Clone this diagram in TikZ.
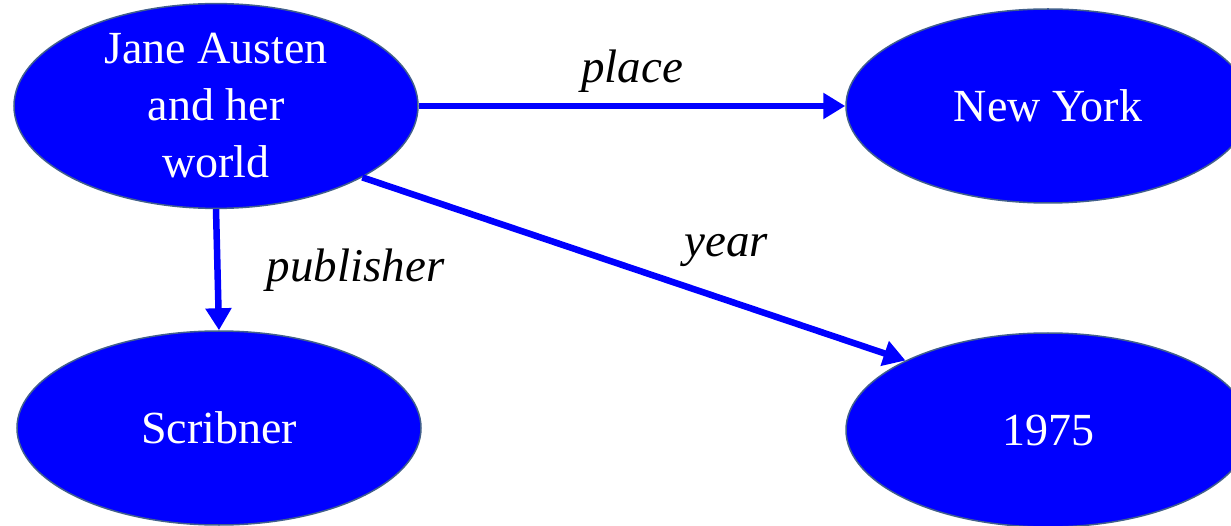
\documentclass[tikz,border=0pt]{standalone}
\usepackage{fontspec}
\setmainfont{Liberation Serif}
\usetikzlibrary{shapes.geometric,positioning,arrows.meta}
\definecolor{nodeblue}{RGB}{0,0,255}
\definecolor{rimslate}{RGB}{65,95,140}
\definecolor{linkblue}{RGB}{0,0,255}
\tikzset{
  entity/.style={
    ellipse, fill=nodeblue, draw=rimslate, line width=1.5pt,
    minimum width=404pt, minimum height=194pt, inner sep=0pt,
    text=white, align=center,
    font=\fontsize{46}{57}\selectfont
  },
  link/.style={
    draw=linkblue, line width=6.5pt,
    -{Triangle[length=22pt,width=25pt]}
  },
  linklabel/.style={
    inner sep=0pt, font=\fontsize{47}{56}\selectfont\itshape
  },
}

\begin{document}
\begin{tikzpicture}[x=1pt,y=-1pt]
\useasboundingbox (0,0) rectangle (1231,526);

%% ── Entities ─────────────────────────────────────────────────────────────
\node[entity] (book) at (216,106) {Jane Austen\\and her\\world};
\node[entity] (city) at (1048,106) {New York};
\node[entity] (press) at (219,428) {Scribner};
\node[entity] (yr) at (1048,430) {1975};

%% ── Properties ───────────────────────────────────────────────────────────
\draw[link] (book.east) -- (city.west)
  node[linklabel, midway, above=10pt] {place};
\draw[link] (book.south) -- (press.north)
  node[linklabel, midway, right=46pt] {publisher};
\draw[link] (book.-26) -- (yr.154.6)
  node[linklabel, pos=0.67, above=30pt] {year};

\end{tikzpicture}
\end{document}
